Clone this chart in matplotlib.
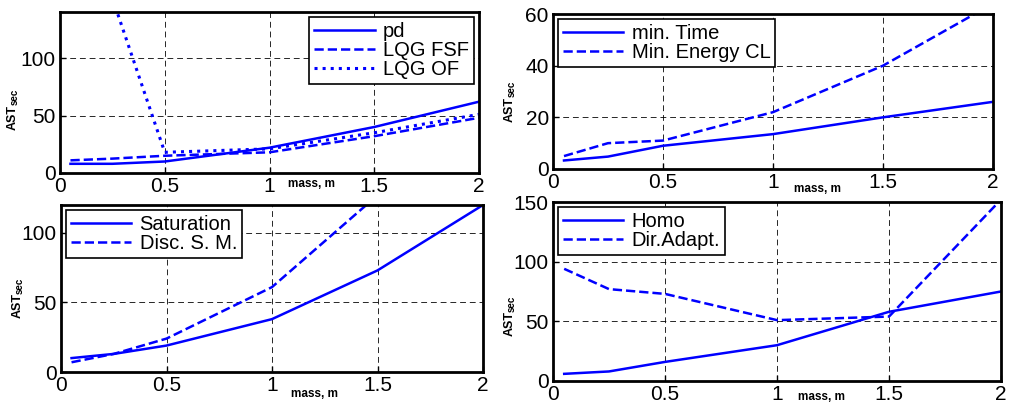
import numpy as np
import matplotlib
matplotlib.use("Agg")
import matplotlib.pyplot as plt

plt.rcParams['font.family'] = ['Liberation Sans', 'DejaVu Sans']

mass = [0.05, 0.25, 0.5, 1.0, 1.5, 2.0]

# top left
pd_ast = [8, 8, 10, 22, 40, 62]
lqg_fsf = [11, 12.5, 15, 18, 32, 48]
lqg_of = [300, 152, 18, 21, 35, 51]
# top right
min_time = [3.3, 4.8, 9, 13.5, 20, 26]
min_energy = [5, 10, 11, 22, 40, 64]
# bottom left
saturation = [10, 13, 19, 38, 73, 120]
disc_sm = [7, 13, 24, 61, 127, 200]
# bottom right
homo = [6, 8, 16, 30, 58, 75]
dir_adapt = [94, 77, 73, 51, 54, 152]

W, H = 1011, 407
fig = plt.figure(figsize=(W / 100, H / 100), dpi=100)

def add_ax(l, r, t, b):
    return fig.add_axes([l / W, 1 - b / H, (r - l) / W, (b - t) / H])

blue = (0, 0, 1)

def style(ax, ylim, yticks, lab_off):
    ax.set_xlim(0, 2)
    ax.set_ylim(*ylim)
    ax.set_xticks([0, 0.5, 1, 1.5, 2])
    ax.set_xticklabels(['0', '0.5', '1', '1.5', '2'])
    ax.set_yticks(yticks)
    ax.tick_params(labelsize=15, direction='in', length=4, width=1, pad=3)
    ax.grid(True, color='black', linestyle=(0, (6, 4)), linewidth=0.7, alpha=0.85)
    for s in ax.spines.values():
        s.set_linewidth(2)
    ax.text(1.2, -lab_off, 'mass, m', transform=ax.get_xaxis_transform(),
            fontsize=8.5, fontweight='bold', ha='center', va='center')

def legend(ax, loc):
    leg = ax.legend(loc=loc, fontsize=14.5, handlelength=3.0, fancybox=False,
                    framealpha=1, edgecolor='black', borderaxespad=0.25,
                    labelspacing=0.0, borderpad=0.25, handletextpad=0.4)
    leg.get_frame().set_linewidth(1.2)

lw = 1.8

ax1 = add_ax(60, 479, 12, 173)
ax1.plot(mass, pd_ast, '-', color=blue, lw=lw, label='pd')
ax1.plot(mass, lqg_fsf, '--', color=blue, lw=lw, label='LQG FSF')
ax1.plot(mass, lqg_of, ':', color=blue, lw=2.2, label='LQG OF')
style(ax1, (0, 140), [0, 50, 100], 0.07)
legend(ax1, 'upper right')

ax2 = add_ax(553, 993, 14, 169)
ax2.plot(mass, min_time, '-', color=blue, lw=lw, label='min. Time')
ax2.plot(mass, min_energy, '--', color=blue, lw=lw, label='Min. Energy CL')
style(ax2, (0, 60), [0, 20, 40, 60], 0.13)
legend(ax2, 'upper left')

ax3 = add_ax(61, 483, 205, 372)
ax3.plot(mass, saturation, '-', color=blue, lw=lw, label='Saturation')
ax3.plot(mass, disc_sm, '--', color=blue, lw=lw, label='Disc. S. M.')
style(ax3, (0, 120), [0, 50, 100], 0.13)
legend(ax3, 'upper left')

ax4 = add_ax(553, 1001, 202, 381)
ax4.plot(mass, homo, '-', color=blue, lw=lw, label='Homo')
ax4.plot(mass, dir_adapt, '--', color=blue, lw=lw, label='Dir.Adapt.')
style(ax4, (0, 150), [0, 50, 100, 150], 0.09)
legend(ax4, 'upper left')

# y labels: "AST" with smaller "sec"
for x, y in [(13, 108), (510, 100), (18, 297), (510, 315)]:
    fig.text(x / W, 1 - (y + 9) / H, 'AST', rotation=90, fontsize=9,
             fontweight='bold', ha='center', va='center')
    fig.text((x + 1.5) / W, 1 - (y - 11) / H, 'sec', rotation=90, fontsize=7,
             fontweight='bold', ha='center', va='center')

fig.savefig('out.png', dpi=100)
